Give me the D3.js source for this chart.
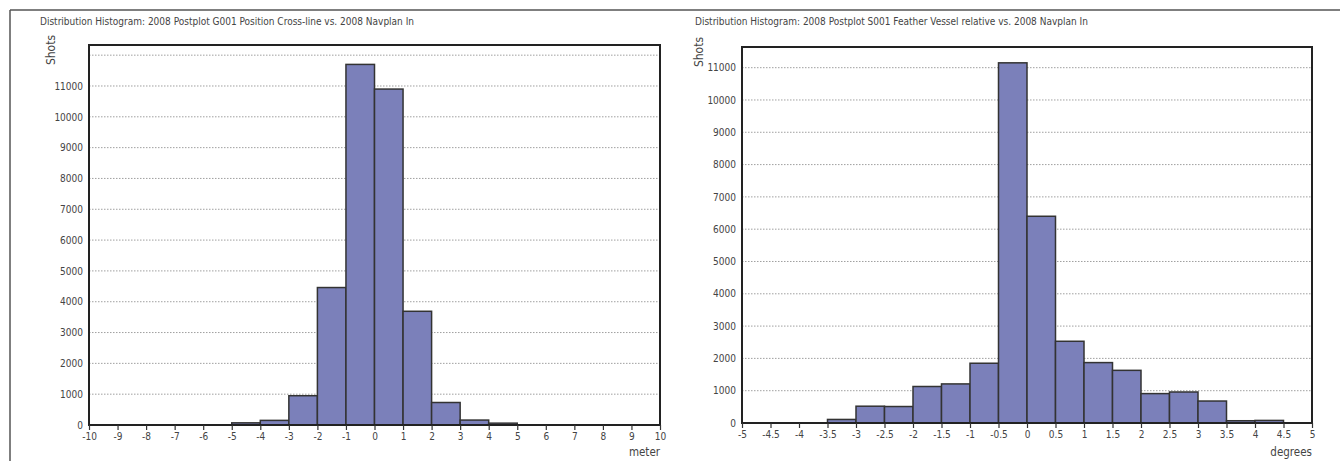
<!DOCTYPE html>
<html>
<head>
<meta charset="utf-8">
<script src="https://cdn.jsdelivr.net/npm/d3@7"></script>
<style>
  body { margin: 0; background: #fff; }
  svg text { font-family: "Liberation Sans Narrow", "DejaVu Sans Condensed", "Roboto", sans-serif; fill: #444; }
</style>
</head>
<body>
<div id="container"></div>
<script>
// left histogram: position cross-line (meter), bin width 1
const leftBins = [-5, -4, -3, -2, -1, 0, 1, 2, 3, 4];
const leftCounts = [70, 150, 950, 4460, 11700, 10900, 3690, 730, 160, 60];
const leftXTicks = [-10, -9, -8, -7, -6, -5, -4, -3, -2, -1, 0, 1, 2, 3, 4, 5, 6, 7, 8, 9, 10];
const leftYTicks = [0, 1000, 2000, 3000, 4000, 5000, 6000, 7000, 8000, 9000, 10000, 11000];
const leftGrid = [1000, 2000, 3000, 4000, 5000, 6000, 7000, 8000, 9000, 10000, 11000, 12000];

// right histogram: feather (degrees), bin width 0.5
const rightBins = [-3.5, -3, -2.5, -2, -1.5, -1, -0.5, 0, 0.5, 1, 1.5, 2, 2.5, 3, 3.5, 4];
const rightCounts = [110, 520, 510, 1130, 1210, 1850, 11150, 6400, 2530, 1870, 1630, 910, 960, 680, 70, 80];
const rightXTicks = [-5, -4.5, -4, -3.5, -3, -2.5, -2, -1.5, -1, -0.5, 0, 0.5, 1, 1.5, 2, 2.5, 3, 3.5, 4, 4.5, 5];
const rightYTicks = [0, 1000, 2000, 3000, 4000, 5000, 6000, 7000, 8000, 9000, 10000, 11000];
const rightGrid = [1000, 2000, 3000, 4000, 5000, 6000, 7000, 8000, 9000, 10000, 11000];

const W = 1340, H = 461;
const fontFam = "'Liberation Sans Narrow', 'DejaVu Sans Condensed', sans-serif";
const svg = d3.select("#container").append("svg")
    .attr("width", W)
    .attr("height", H);

// outer frame lines
svg.append("line").attr("x1", 10).attr("x2", W).attr("y1", 10).attr("y2", 10)
    .attr("stroke", "#555").attr("stroke-width", 1.5);
svg.append("line").attr("x1", 10).attr("x2", 10).attr("y1", 10).attr("y2", H)
    .attr("stroke", "#555").attr("stroke-width", 1.5);

function drawHist(opt) {
    const x = d3.scaleLinear().domain(opt.xDomain).range([opt.left, opt.right]);
    const y = d3.scaleLinear().domain([0, opt.yMax]).range([opt.bottom, opt.top]);
    const g = svg.append("g");

    g.append("text")
        .attr("x", opt.titleX).attr("y", 25)
        .attr("font-size", 10)
        .text(opt.title);

    // dotted gridlines
    g.selectAll(".grid").data(opt.grid).enter().append("line")
        .attr("x1", opt.left).attr("x2", opt.right)
        .attr("y1", d => y(d)).attr("y2", d => y(d))
        .attr("stroke", "#888").attr("stroke-width", 0.8)
        .attr("stroke-dasharray", "1.5,1.5");

    // bars
    g.selectAll(".bar").data(opt.bins).enter().append("rect")
        .attr("x", d => x(d))
        .attr("width", d => x(d + opt.binW) - x(d))
        .attr("y", (d, i) => y(opt.counts[i]))
        .attr("height", (d, i) => y(0) - y(opt.counts[i]))
        .attr("fill", "#7b80ba")
        .attr("stroke", "#333")
        .attr("stroke-width", 1.5);

    // plot frame
    g.append("rect")
        .attr("x", opt.left).attr("y", opt.top)
        .attr("width", opt.right - opt.left).attr("height", opt.bottom - opt.top)
        .attr("fill", "none").attr("stroke", "#222").attr("stroke-width", 2);

    // y axis labels
    const yAxis = g.append("g")
        .attr("transform", `translate(${opt.left},0)`)
        .call(d3.axisLeft(y).tickValues(opt.yTicks).tickSize(0).tickPadding(6)
            .tickFormat(d => String(d)));
    yAxis.select(".domain").remove();
    yAxis.selectAll("text").attr("font-size", 10).attr("fill", "#444")
        .style("font-family", fontFam);

    // x axis
    const xAxis = g.append("g")
        .attr("transform", `translate(0,${opt.bottom})`)
        .call(d3.axisBottom(x).tickValues(opt.xTicks).tickSize(5).tickPadding(3)
            .tickFormat(d => String(d)));
    xAxis.select(".domain").remove();
    xAxis.selectAll("line").attr("stroke", "#333").attr("stroke-width", 1.2);
    xAxis.selectAll("text").attr("font-size", 10).attr("fill", "#444")
        .style("font-family", fontFam);

    g.append("text")
        .attr("transform", `translate(${opt.shotsX},${opt.shotsY}) rotate(-90)`)
        .attr("text-anchor", "middle")
        .attr("font-size", 12)
        .text("Shots");

    g.append("text")
        .attr("x", opt.right).attr("y", 456)
        .attr("text-anchor", "end")
        .attr("font-size", 11.5)
        .text(opt.unit);
}

drawHist({
    title: "Distribution Histogram: 2008 Postplot G001 Position Cross-line vs. 2008 Navplan In",
    titleX: 40,
    left: 89, right: 660, top: 45, bottom: 425,
    xDomain: [-10, 10], yMax: 12330, binW: 1,
    bins: leftBins, counts: leftCounts,
    xTicks: leftXTicks, yTicks: leftYTicks, grid: leftGrid,
    shotsX: 55, shotsY: 50, unit: "meter"
});

drawHist({
    title: "Distribution Histogram: 2008 Postplot S001 Feather Vessel relative vs. 2008 Navplan In",
    titleX: 695,
    left: 742, right: 1312, top: 47, bottom: 423,
    xDomain: [-5, 5], yMax: 11640, binW: 0.5,
    bins: rightBins, counts: rightCounts,
    xTicks: rightXTicks, yTicks: rightYTicks, grid: rightGrid,
    shotsX: 703, shotsY: 52, unit: "degrees"
});
</script>
</body>
</html>
